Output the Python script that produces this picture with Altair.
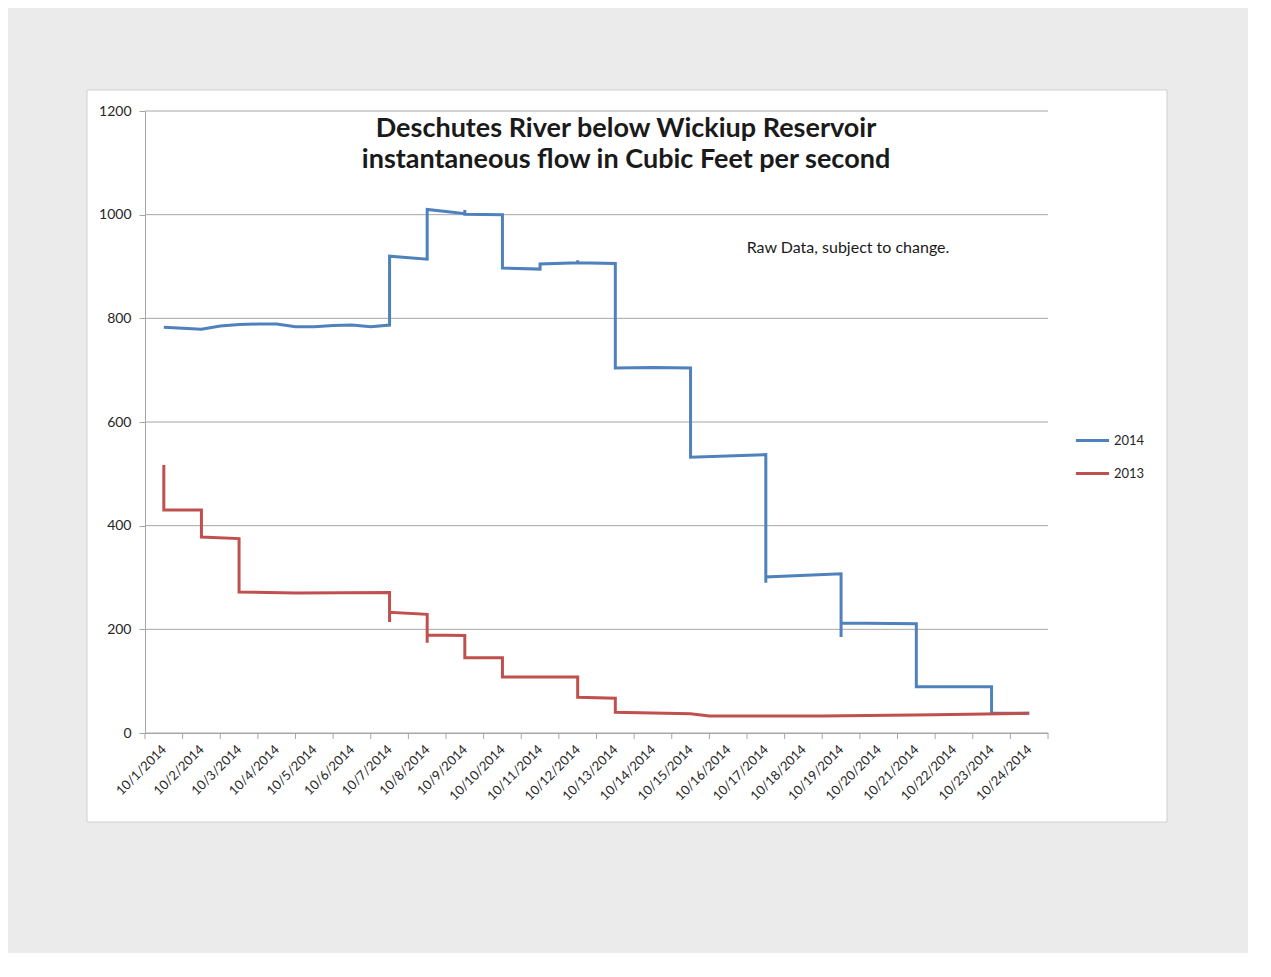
import json
import altair as alt
import pandas as pd

# ---------------- data ----------------
dates = ["10/1/2014", "10/2/2014", "10/3/2014", "10/4/2014", "10/5/2014", "10/6/2014",
         "10/7/2014", "10/8/2014", "10/9/2014", "10/10/2014", "10/11/2014", "10/12/2014",
         "10/13/2014", "10/14/2014", "10/15/2014", "10/16/2014", "10/17/2014", "10/18/2014",
         "10/19/2014", "10/20/2014", "10/21/2014", "10/22/2014", "10/23/2014", "10/24/2014"]
day_bounds = list(range(25))          # category boundaries (tick marks)
y_ticks = [0, 200, 400, 600, 800, 1000, 1200]

series = ["2014", "2013"]
colors = ["#4f81bd", "#c0504d"]

# position in days (0.5 = middle of 10/1) and flow in cfs
t_2014 = [0.5, 1.0, 1.5, 2.0, 2.5, 3.0, 3.5, 4.0, 4.5, 5.0, 5.5, 6.0, 6.5,
          6.5, 7.5, 7.5, 8.0, 8.5, 8.5, 8.5, 9.5,
          9.5, 10.5, 10.5, 11.5, 11.5, 11.5, 12.5,
          12.5, 13.5, 14.5, 14.5, 16.5, 16.5, 16.5, 18.5,
          18.5, 18.5, 20.5, 20.5, 22.5, 22.5, 23.5]
v_2014 = [783, 781, 779, 785, 788, 789, 789, 784, 784, 786, 787, 784, 787,
          920, 914, 1010, 1006, 1002, 1009, 1001, 1000,
          897, 895, 905, 907, 912, 907, 906,
          704, 705, 704, 532, 537, 290, 301, 307,
          185, 212, 211, 89, 89, 38, 38]

t_2013 = [0.5, 0.5, 1.5, 1.5, 2.5, 2.5, 4.0, 6.5,
          6.5, 6.5, 7.5, 7.5, 7.5, 8.5, 8.5, 9.5, 9.5,
          11.5, 11.5, 12.5, 12.5, 14.5, 15.0, 18.0, 21.0, 23.5]
v_2013 = [517, 430, 430, 378, 375, 272, 270, 271,
          214, 233, 229, 174, 189, 188, 145, 145, 108,
          108, 69, 67, 40, 37, 33, 33, 35, 38]

rows = []
for name, ts, vs in [("2014", t_2014, v_2014), ("2013", t_2013, v_2013)]:
    for i, (t, v) in enumerate(zip(ts, vs)):
        rows.append({"year": name, "t": t, "v": v, "i": i})
df = pd.DataFrame(rows)

FONT = "Lato"
GRID = "#a6a6a6"
TXT = "#262626"

W, H = 903, 622
one = pd.DataFrame({"k": [0]})

xscale = alt.Scale(domain=[0, 24], nice=False, zero=False)
yscale = alt.Scale(domain=[0, 1200], nice=False)

label_expr = json.dumps(dates) + "[floor(datum.value)]"

x_axis = alt.Axis(values=[d + 0.5 for d in range(24)], labelExpr=label_expr,
                  labelAngle=-45, labelAlign="right", labelBaseline="middle",
                  labelPadding=14, ticks=False, domain=True, domainColor=GRID,
                  grid=False, labelFont=FONT, labelFontSize=13, labelColor=TXT,
                  labelOverlap=False, labelBound=False, zindex=1, title=None)
y_axis = alt.Axis(values=y_ticks, format="d", grid=False, domainColor=GRID, tickColor=GRID,
                  tickSize=6, labelPadding=8, labelFont=FONT, labelFontSize=14,
                  labelColor=TXT, zindex=1, title=None)

frame = alt.Chart(one).mark_rect(fill="white", stroke="#cfcfcf", strokeWidth=1).encode(
    x=alt.value(-58), x2=alt.value(1022), y=alt.value(-21), y2=alt.value(711)
)

grid = alt.Chart(pd.DataFrame({"g": y_ticks})).mark_rule(color=GRID, strokeWidth=1).encode(
    y=alt.Y("g:Q", scale=yscale, axis=y_axis)
)

xticks = alt.Chart(pd.DataFrame({"b": day_bounds})).mark_rule(color=GRID, strokeWidth=1).encode(
    x=alt.X("b:Q", scale=xscale, axis=x_axis),
    y=alt.value(H), y2=alt.value(H + 6)
)

lines = alt.Chart(df).mark_line(strokeWidth=3, strokeJoin="miter").encode(
    x=alt.X("t:Q", scale=xscale, axis=x_axis),
    y=alt.Y("v:Q", scale=yscale, axis=y_axis),
    color=alt.Color("year:N", sort=series,
                    scale=alt.Scale(domain=series, range=colors),
                    legend=alt.Legend(title=None, orient="none", legendX=929, legendY=311,
                                      symbolType="stroke", symbolSize=1100,
                                      symbolStrokeWidth=3, labelFont=FONT,
                                      labelFontSize=13, labelColor=TXT, rowPadding=7,
                                      labelOffset=3)),
    order=alt.Order("i:Q"),
)

title = alt.Chart(one).mark_text(
    text="Deschutes River below Wickiup Reservoir\ninstantaneous flow in Cubic Feet per second",
    lineBreak="\n", lineHeight=31, font=FONT, fontSize=27, fontWeight="bold",
    color="#1a1a1a", align="center", baseline="middle"
).encode(x=alt.value(481), y=alt.value(17.5))

note = alt.Chart(one).mark_text(
    text="Raw Data, subject to change.", font=FONT, fontSize=16, color="#1a1a1a",
    align="center", baseline="middle"
).encode(x=alt.value(703), y=alt.value(137))

chart = alt.layer(frame, grid, xticks, lines, title, note).properties(
    width=W, height=H,
    autosize=alt.AutoSizeParams(type="none"),
    padding={"left": 137, "top": 103, "right": 200, "bottom": 220},
).configure(background="#ebebeb").configure_view(stroke=None)

chart.save("out.html", embed_options={"renderer": "svg", "actions": False})
